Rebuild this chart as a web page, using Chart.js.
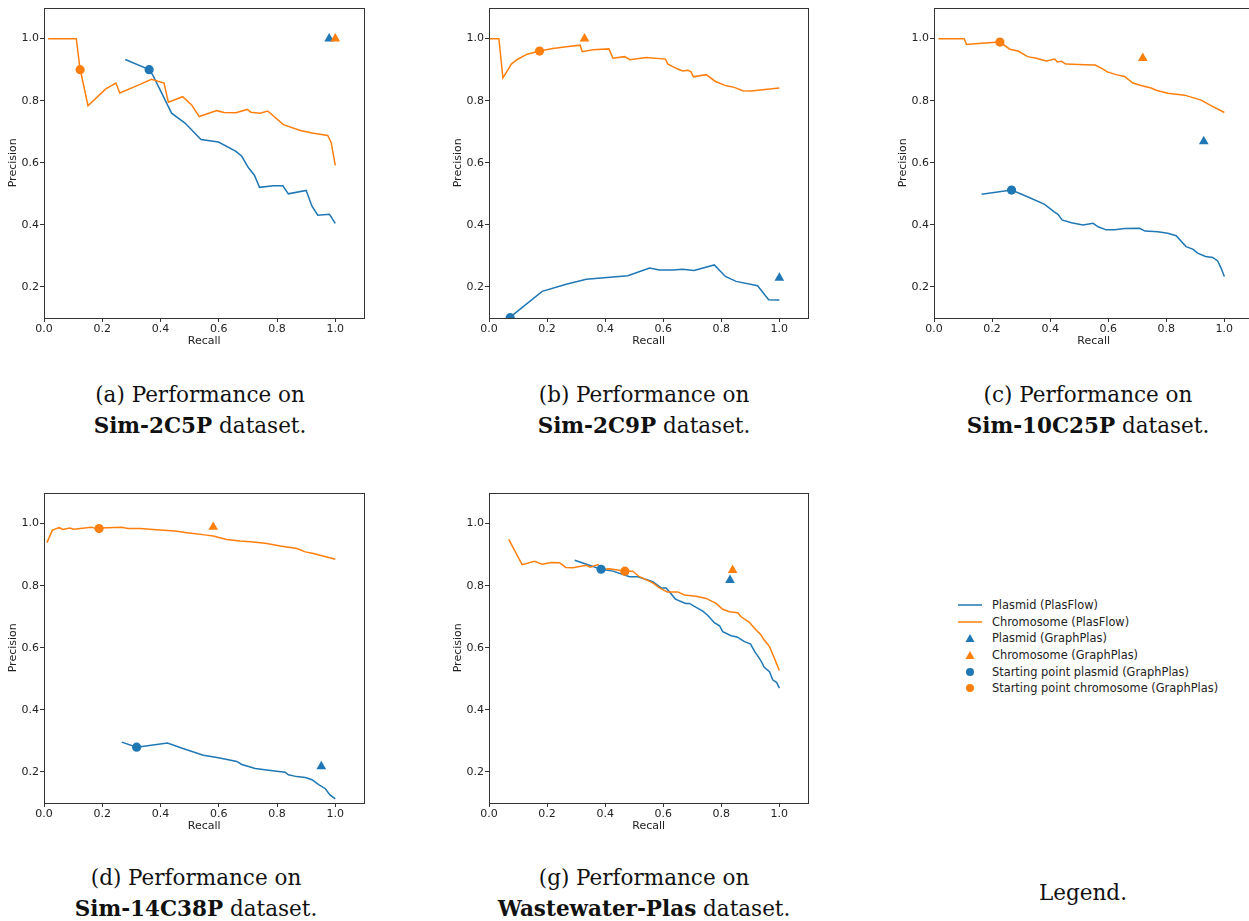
<!DOCTYPE html>
<html><head><meta charset="utf-8">
<script src="https://cdn.jsdelivr.net/npm/chart.js@4.4.0/dist/chart.umd.min.js"></script>
<style>
html,body{margin:0;padding:0;background:#fff;overflow:hidden;width:1249px;height:921px;position:relative;}
canvas{position:absolute;}
.cap{position:absolute;font-family:'DejaVu Serif',serif;font-size:21.5px;line-height:31px;color:#111;text-align:center;width:400px;white-space:nowrap;}
.cap b{font-weight:bold;}
#legend{position:absolute;left:940px;top:590px;}
</style></head><body>
<canvas id="ca" width="370" height="350" style="left:0px;top:0px"></canvas>
<canvas id="cb" width="369" height="350" style="left:445px;top:0px"></canvas>
<canvas id="cc" width="369" height="350" style="left:890px;top:0px"></canvas>
<canvas id="cd" width="370" height="350" style="left:0px;top:485px"></canvas>
<canvas id="cg" width="369" height="350" style="left:445px;top:485px"></canvas>

<div class="cap" style="left:0px;top:379px">(a) Performance on<br><b>Sim-2C5P</b> dataset.</div>
<div class="cap" style="left:444px;top:379px">(b) Performance on<br><b>Sim-2C9P</b> dataset.</div>
<div class="cap" style="left:888px;top:379px">(c) Performance on<br><b>Sim-10C25P</b> dataset.</div>
<div class="cap" style="left:-4px;top:862px">(d) Performance on<br><b>Sim-14C38P</b> dataset.</div>
<div class="cap" style="left:444px;top:862px">(g) Performance on<br><b>Wastewater-Plas</b> dataset.</div>
<div class="cap" style="left:883px;top:877px">Legend.</div>

<svg id="legend" width="300" height="110" xmlns="http://www.w3.org/2000/svg" font-family="DejaVu Sans" font-size="11.4" fill="#222">
  <line x1="18" y1="15" x2="42" y2="15" stroke="#1f77b4" stroke-width="1.5"/>
  <text x="52" y="15" dominant-baseline="central">Plasmid (PlasFlow)</text>
  <line x1="18" y1="32" x2="42" y2="32" stroke="#ff7f0e" stroke-width="1.5"/>
  <text x="52" y="32" dominant-baseline="central">Chromosome (PlasFlow)</text>
  <polygon points="30,44 34.5,52 25.5,52" fill="#1f77b4"/>
  <text x="52" y="48" dominant-baseline="central">Plasmid (GraphPlas)</text>
  <polygon points="30,61 34.5,69 25.5,69" fill="#ff7f0e"/>
  <text x="52" y="65" dominant-baseline="central">Chromosome (GraphPlas)</text>
  <circle cx="30" cy="82" r="4" fill="#1f77b4"/>
  <text x="52" y="82" dominant-baseline="central">Starting point plasmid (GraphPlas)</text>
  <circle cx="30" cy="98" r="4" fill="#ff7f0e"/>
  <text x="52" y="98" dominant-baseline="central">Starting point chromosome (GraphPlas)</text>
</svg>

<script>
// ---- axis ticks ----
const recallTicks = [0.0, 0.2, 0.4, 0.6, 0.8, 1.0];
const precisionTicks = [0.2, 0.4, 0.6, 0.8, 1.0];

// ---- (a) Sim-2C5P ----
const a_plasmidPlasFlow = [[0.279,0.933],[0.361,0.900],[0.375,0.880],[0.438,0.760],[0.484,0.728],[0.539,0.675],[0.599,0.667],[0.659,0.637],[0.679,0.621],[0.702,0.584],[0.722,0.561],[0.740,0.521],[0.788,0.526],[0.820,0.526],[0.839,0.500],[0.900,0.511],[0.920,0.460],[0.940,0.431],[0.980,0.434],[1.000,0.405]];
const a_chromPlasFlow = [[0.014,1.0],[0.111,1.0],[0.123,0.907],[0.151,0.784],[0.212,0.838],[0.247,0.857],[0.260,0.825],[0.318,0.848],[0.369,0.869],[0.412,0.857],[0.427,0.795],[0.476,0.813],[0.507,0.786],[0.533,0.749],[0.593,0.768],[0.618,0.762],[0.659,0.761],[0.698,0.772],[0.710,0.763],[0.742,0.760],[0.768,0.767],[0.822,0.723],[0.880,0.704],[0.920,0.696],[0.974,0.688],[0.986,0.665],[1.000,0.592]];
const a_plasmidGraphPlas = [0.979, 1.0];
const a_chromGraphPlas = [1.0, 1.0];
const a_plasmidStart = [0.361, 0.900];
const a_chromStart = [0.124, 0.900];

// ---- (b) Sim-2C9P ----
const b_plasmidPlasFlow = [[0.073,0.103],[0.183,0.186],[0.266,0.209],[0.335,0.225],[0.478,0.236],[0.553,0.261],[0.587,0.255],[0.633,0.255],[0.667,0.257],[0.706,0.253],[0.776,0.271],[0.814,0.234],[0.851,0.218],[0.925,0.204],[0.963,0.159],[1.000,0.158]];
const b_chromPlasFlow = [[0.0,1.0],[0.034,1.0],[0.048,0.873],[0.077,0.918],[0.096,0.932],[0.131,0.950],[0.174,0.960],[0.220,0.968],[0.266,0.974],[0.314,0.979],[0.321,0.958],[0.358,0.964],[0.413,0.967],[0.427,0.937],[0.467,0.942],[0.486,0.932],[0.541,0.939],[0.608,0.934],[0.616,0.918],[0.650,0.902],[0.667,0.896],[0.685,0.898],[0.696,0.893],[0.704,0.877],[0.748,0.884],[0.780,0.862],[0.817,0.848],[0.845,0.843],[0.874,0.832],[0.902,0.831],[1.000,0.841]];
const b_plasmidGraphPlas = [1.0, 0.229];
const b_chromGraphPlas = [0.329, 1.0];
const b_plasmidStart = [0.073, 0.101];
const b_chromStart = [0.174, 0.960];

// ---- (c) Sim-10C25P ----
const c_plasmidPlasFlow = [[0.164,0.499],[0.267,0.512],[0.324,0.490],[0.381,0.466],[0.414,0.442],[0.427,0.434],[0.441,0.416],[0.473,0.407],[0.513,0.400],[0.548,0.405],[0.565,0.394],[0.593,0.384],[0.622,0.384],[0.656,0.388],[0.708,0.389],[0.727,0.380],[0.771,0.378],[0.805,0.373],[0.834,0.365],[0.868,0.330],[0.891,0.322],[0.908,0.309],[0.935,0.298],[0.960,0.295],[0.977,0.284],[0.989,0.260],[1.000,0.234]];
const c_chromPlasFlow = [[0.015,1.0],[0.104,1.0],[0.112,0.981],[0.164,0.985],[0.227,0.989],[0.261,0.966],[0.290,0.960],[0.322,0.942],[0.353,0.937],[0.387,0.928],[0.416,0.934],[0.425,0.925],[0.439,0.927],[0.454,0.918],[0.519,0.916],[0.555,0.915],[0.582,0.902],[0.597,0.893],[0.627,0.884],[0.656,0.878],[0.685,0.857],[0.713,0.849],[0.748,0.841],[0.765,0.834],[0.805,0.824],[0.863,0.818],[0.920,0.802],[0.954,0.784],[1.000,0.762]];
const c_plasmidGraphPlas = [0.929, 0.669];
const c_chromGraphPlas = [0.719, 0.937];
const c_plasmidStart = [0.267, 0.512];
const c_chromStart = [0.227, 0.989];

// ---- (d) Sim-14C38P ----
const d_plasmidPlasFlow = [[0.267,0.296],[0.318,0.280],[0.424,0.293],[0.472,0.277],[0.547,0.254],[0.599,0.246],[0.662,0.234],[0.679,0.224],[0.725,0.211],[0.765,0.206],[0.799,0.202],[0.828,0.199],[0.839,0.191],[0.868,0.185],[0.897,0.182],[0.920,0.175],[0.943,0.159],[0.966,0.146],[0.981,0.127],[1.000,0.113]];
const d_chromPlasFlow = [[0.010,0.939],[0.029,0.979],[0.042,0.984],[0.052,0.987],[0.065,0.981],[0.088,0.986],[0.102,0.982],[0.140,0.986],[0.163,0.988],[0.180,0.984],[0.192,0.986],[0.266,0.988],[0.289,0.984],[0.329,0.984],[0.386,0.980],[0.450,0.976],[0.490,0.971],[0.513,0.968],[0.558,0.963],[0.581,0.960],[0.627,0.949],[0.673,0.944],[0.719,0.941],[0.765,0.936],[0.811,0.928],[0.868,0.920],[0.897,0.909],[0.925,0.904],[1.000,0.885]];
const d_plasmidGraphPlas = [0.952, 0.218];
const d_chromGraphPlas = [0.581, 0.989];
const d_plasmidStart = [0.318, 0.280];
const d_chromStart = [0.189, 0.984];

// ---- (g) Wastewater-Plas ----
const g_plasmidPlasFlow = [[0.295,0.882],[0.386,0.853],[0.427,0.847],[0.484,0.829],[0.513,0.829],[0.564,0.813],[0.593,0.793],[0.610,0.793],[0.622,0.780],[0.642,0.757],[0.677,0.743],[0.690,0.743],[0.736,0.718],[0.753,0.705],[0.776,0.681],[0.794,0.671],[0.805,0.652],[0.834,0.639],[0.854,0.635],[0.880,0.620],[0.901,0.612],[0.914,0.589],[0.929,0.569],[0.940,0.552],[0.948,0.537],[0.966,0.523],[0.977,0.497],[0.991,0.488],[1.000,0.470]];
const g_chromPlasFlow = [[0.068,0.949],[0.114,0.868],[0.157,0.879],[0.183,0.869],[0.214,0.875],[0.243,0.874],[0.264,0.859],[0.289,0.858],[0.335,0.866],[0.349,0.860],[0.375,0.868],[0.392,0.853],[0.415,0.855],[0.468,0.847],[0.495,0.847],[0.518,0.829],[0.564,0.809],[0.587,0.793],[0.614,0.780],[0.650,0.780],[0.673,0.770],[0.713,0.766],[0.748,0.759],[0.782,0.743],[0.805,0.724],[0.828,0.716],[0.857,0.713],[0.868,0.700],[0.897,0.682],[0.914,0.663],[0.937,0.641],[0.948,0.625],[0.966,0.604],[0.983,0.566],[1.000,0.527]];
const g_plasmidGraphPlas = [0.830, 0.818];
const g_chromGraphPlas = [0.839, 0.850];
const g_plasmidStart = [0.386, 0.853];
const g_chromStart = [0.468, 0.847];

const BLUE = '#1f77b4', ORANGE = '#ff7f0e';
const toXY = arr => arr.map(p => ({x: p[0], y: p[1]}));
const one = p => [{x: p[0], y: p[1]}];

const framePlugin = {
  id: 'frame',
  afterDatasetsDraw(chart) {
    const {ctx, chartArea: a} = chart;
    ctx.save();
    ctx.strokeStyle = '#333';
    ctx.lineWidth = 1;
    ctx.strokeRect(Math.round(a.left) + 0.5, Math.round(a.top) + 0.5, Math.round(a.right - a.left), Math.round(a.bottom - a.top));
    ctx.restore();
  }
};

function makeChart(id, plasmidLine, chromLine, plasmidTri, chromTri, plasmidDot, chromDot) {
  const ctx = document.getElementById(id);
  return new Chart(ctx, {
    type: 'scatter',
    data: {
      datasets: [
        {label: 'Plasmid (PlasFlow)', data: toXY(plasmidLine), showLine: true, borderColor: BLUE, backgroundColor: BLUE, borderWidth: 1.5, pointRadius: 0, tension: 0, order: 6},
        {label: 'Chromosome (PlasFlow)', data: toXY(chromLine), showLine: true, borderColor: ORANGE, backgroundColor: ORANGE, borderWidth: 1.5, pointRadius: 0, tension: 0, order: 5},
        {label: 'Plasmid (GraphPlas)', data: one(plasmidTri), pointStyle: 'triangle', pointRadius: 5.6, pointBorderWidth: 0, backgroundColor: BLUE, borderColor: BLUE, order: 4},
        {label: 'Chromosome (GraphPlas)', data: one(chromTri), pointStyle: 'triangle', pointRadius: 5.6, pointBorderWidth: 0, backgroundColor: ORANGE, borderColor: ORANGE, order: 3},
        {label: 'Starting point plasmid (GraphPlas)', data: one(plasmidDot), pointStyle: 'circle', pointRadius: 4.6, pointBorderWidth: 0, backgroundColor: BLUE, borderColor: BLUE, order: 2},
        {label: 'Starting point chromosome (GraphPlas)', data: one(chromDot), pointStyle: 'circle', pointRadius: 4.6, pointBorderWidth: 0, backgroundColor: ORANGE, borderColor: ORANGE, order: 1}
      ]
    },
    options: {
      responsive: false,
      animation: false,
      devicePixelRatio: 1,
      layout: {padding: {top: 6, right: 5, left: 0, bottom: 0}},
      plugins: {legend: {display: false}, tooltip: {enabled: false}},
      scales: {
        x: {
          type: 'linear', min: 0, max: 1.1,
          afterFit: s => { s.height = 32; },
          afterBuildTicks: s => { s.ticks = recallTicks.map(v => ({value: v})); },
          grid: {display: true, drawOnChartArea: false, drawTicks: true, tickLength: 4, color: '#333'},
          border: {display: false},
          ticks: {color: '#222', font: {family: 'DejaVu Sans', size: 11}, padding: 1, maxRotation: 0, autoSkip: false, callback: v => v.toFixed(1)},
          title: {display: true, text: 'Recall', color: '#222', font: {family: 'DejaVu Sans', size: 11}, padding: {top: 0, bottom: 2}}
        },
        y: {
          type: 'linear', min: 0.1, max: 1.1,
          afterFit: s => { s.width = 44; },
          afterBuildTicks: s => { s.ticks = precisionTicks.map(v => ({value: v})); },
          grid: {display: true, drawOnChartArea: false, drawTicks: true, tickLength: 4, color: '#333'},
          border: {display: false},
          ticks: {color: '#222', font: {family: 'DejaVu Sans', size: 11}, padding: 1, autoSkip: false, callback: v => v.toFixed(1)},
          title: {display: true, text: 'Precision', color: '#222', font: {family: 'DejaVu Sans', size: 11}, padding: {top: 7, bottom: 0}}
        }
      }
    },
    plugins: [framePlugin]
  });
}

makeChart('ca', a_plasmidPlasFlow, a_chromPlasFlow, a_plasmidGraphPlas, a_chromGraphPlas, a_plasmidStart, a_chromStart);
makeChart('cb', b_plasmidPlasFlow, b_chromPlasFlow, b_plasmidGraphPlas, b_chromGraphPlas, b_plasmidStart, b_chromStart);
makeChart('cc', c_plasmidPlasFlow, c_chromPlasFlow, c_plasmidGraphPlas, c_chromGraphPlas, c_plasmidStart, c_chromStart);
makeChart('cd', d_plasmidPlasFlow, d_chromPlasFlow, d_plasmidGraphPlas, d_chromGraphPlas, d_plasmidStart, d_chromStart);
makeChart('cg', g_plasmidPlasFlow, g_chromPlasFlow, g_plasmidGraphPlas, g_chromGraphPlas, g_plasmidStart, g_chromStart);
</script>
</body></html>
